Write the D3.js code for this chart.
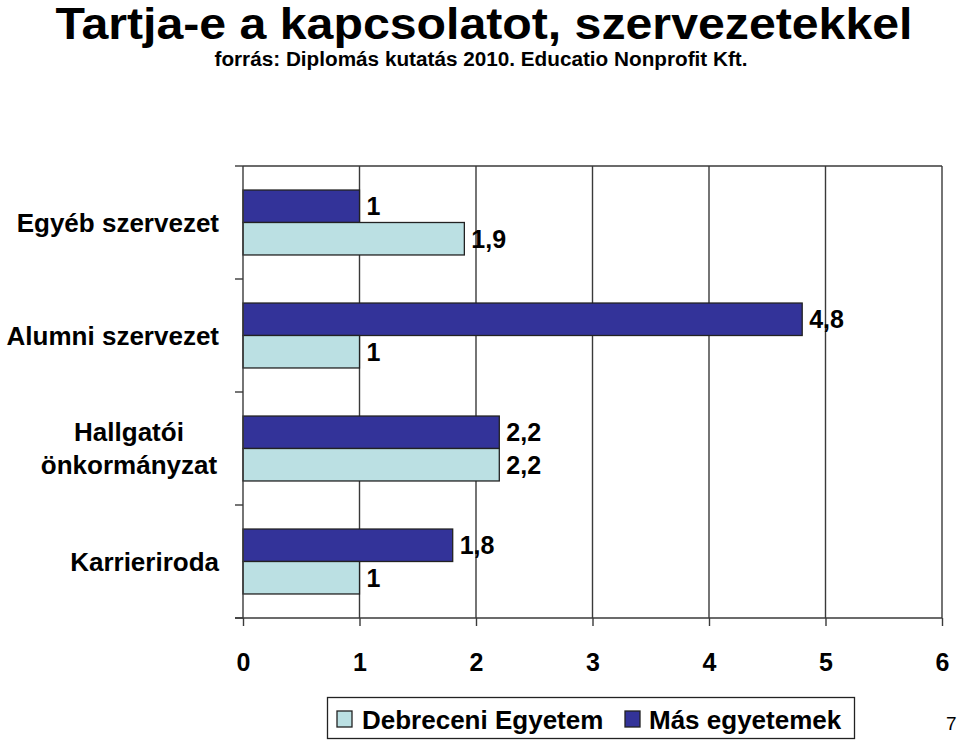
<!DOCTYPE html>
<html><head><meta charset="utf-8">
<script src="https://cdn.jsdelivr.net/npm/d3@7"></script>
<style>body{margin:0;background:#fff}svg{display:block}</style>
</head><body>
<script>
const categories = ["Egyéb szervezet", "Alumni szervezet", "Hallgatói önkormányzat", "Karrieriroda"];
const categoryLines = [["Egyéb szervezet"], ["Alumni szervezet"], ["Hallgatói", "önkormányzat"], ["Karrieriroda"]];
const seriesNames = ["Más egyetemek", "Debreceni Egyetem"];
const masValues = [1, 4.8, 2.2, 1.8];
const debreceniValues = [1.9, 1, 2.2, 1];
const xTicks = [0, 1, 2, 3, 4, 5, 6];
const colors = {"Más egyetemek": "#333399", "Debreceni Egyetem": "#bbe0e3"};

const W = 959, H = 742;
const svg = d3.select("body").append("svg").attr("width", W).attr("height", H);
const ff = "Arial, 'Liberation Sans', sans-serif";

svg.append("text").attr("x", 484).attr("y", 39).attr("text-anchor", "middle")
  .attr("font-family", ff).attr("font-weight", "bold").attr("font-size", 45)
  .attr("textLength", 857).attr("lengthAdjust", "spacingAndGlyphs")
  .text("Tartja-e a kapcsolatot, szervezetekkel");
svg.append("text").attr("x", 481).attr("y", 66).attr("text-anchor", "middle")
  .attr("font-family", ff).attr("font-weight", "bold").attr("font-size", 20)
  .attr("textLength", 533).attr("lengthAdjust", "spacingAndGlyphs")
  .text("forrás: Diplomás kutatás 2010. Educatio Nonprofit Kft.");

const pLeft = 243, pRight = 942, pTop = 166, pBottom = 618;
const x = d3.scaleLinear().domain([0, 6]).range([pLeft, pRight]);
const y = d3.scaleBand().domain(categories).range([pTop, pBottom]);
const inner = d3.scaleBand().domain(seriesNames).range([0, y.bandwidth()]).paddingOuter(0.74).paddingInner(0);

const lineCol = "#3a3a3a";
// gridlines
svg.append("g").selectAll("line").data(xTicks.slice(1)).join("line")
  .attr("x1", d => x(d)).attr("x2", d => x(d)).attr("y1", pTop).attr("y2", pBottom)
  .attr("stroke", lineCol).attr("stroke-width", 1.4);
svg.append("line").attr("x1", pLeft).attr("x2", pRight).attr("y1", pTop).attr("y2", pTop)
  .attr("stroke", lineCol).attr("stroke-width", 1.4);

const data = categories.map((c, i) => ({cat: c, vals: [
  {s: "Más egyetemek", v: masValues[i]}, {s: "Debreceni Egyetem", v: debreceniValues[i]}]}));

const g = svg.append("g").selectAll("g").data(data).join("g")
  .attr("transform", d => `translate(0,${y(d.cat)})`);
g.selectAll("rect").data(d => d.vals).join("rect")
  .attr("x", x(0)).attr("y", d => inner(d.s)).attr("width", d => x(d.v) - x(0)).attr("height", inner.bandwidth())
  .attr("fill", d => colors[d.s]).attr("stroke", "#222").attr("stroke-width", 1.3);
g.selectAll("text").data(d => d.vals).join("text")
  .attr("x", d => x(d.v) + 7).attr("y", d => inner(d.s) + inner.bandwidth() / 2 + 9)
  .attr("font-family", ff).attr("font-weight", "bold").attr("font-size", 25).attr("fill", "#000")
  .text(d => String(d.v).replace(".", ","));

// x axis
const xAxis = svg.append("g").attr("transform", `translate(0,${pBottom})`)
  .call(d3.axisBottom(x).tickValues(xTicks).tickSize(8).tickPadding(27).tickFormat(d => d));
xAxis.select(".domain").attr("d", `M${pLeft - 8},0H${pRight}`).attr("stroke", lineCol).attr("stroke-width", 1.4);
xAxis.selectAll(".tick line").attr("stroke", lineCol).attr("stroke-width", 1.4);
xAxis.selectAll("text").attr("font-family", ff).attr("font-weight", "bold").attr("font-size", 25).attr("fill", "#000");

// y axis
const yAxis = svg.append("g").attr("transform", `translate(${pLeft},0)`);
yAxis.append("line").attr("x1", 0).attr("x2", 0).attr("y1", pTop).attr("y2", pBottom).attr("stroke", lineCol).attr("stroke-width", 1.4);
yAxis.selectAll("line.t").data(categories.map(c => y(c)).concat([pBottom])).join("line").attr("class", "t")
  .attr("x1", -8).attr("x2", 0).attr("y1", d => d).attr("y2", d => d).attr("stroke", lineCol).attr("stroke-width", 1.4);

categories.forEach((c, i) => {
  const lines = categoryLines[i];
  const cy = y(c) + y.bandwidth() / 2;
  const t = svg.append("text").attr("font-family", ff).attr("font-weight", "bold").attr("font-size", 26).attr("fill", "#000")
    .attr("text-anchor", lines.length > 1 ? "middle" : "end");
  lines.forEach((l, j) => {
    t.append("tspan").attr("x", lines.length > 1 ? 129 : 219)
      .attr("y", cy + 9 + (j - (lines.length - 1) / 2) * 33).text(l);
  });
});

// legend
const leg = svg.append("g");
leg.append("rect").attr("x", 327.5).attr("y", 697.5).attr("width", 527).attr("height", 41)
  .attr("fill", "#fff").attr("stroke", "#222").attr("stroke-width", 1.3);
const legItems = [{s: "Debreceni Egyetem", x: 337, tx: 362}, {s: "Más egyetemek", x: 625, tx: 649}];
legItems.forEach(it => {
  leg.append("rect").attr("x", it.x).attr("y", 711).attr("width", 15).attr("height", 16)
    .attr("fill", colors[it.s]).attr("stroke", "#222").attr("stroke-width", 1.3);
  leg.append("text").attr("x", it.tx).attr("y", 729).attr("font-family", ff).attr("font-weight", "bold").attr("font-size", 26)
    .attr("fill", "#000").text(it.s);
});
svg.append("text").attr("x", 946).attr("y", 730).attr("font-family", ff).attr("font-size", 19).text("7");
</script>
</body></html>
